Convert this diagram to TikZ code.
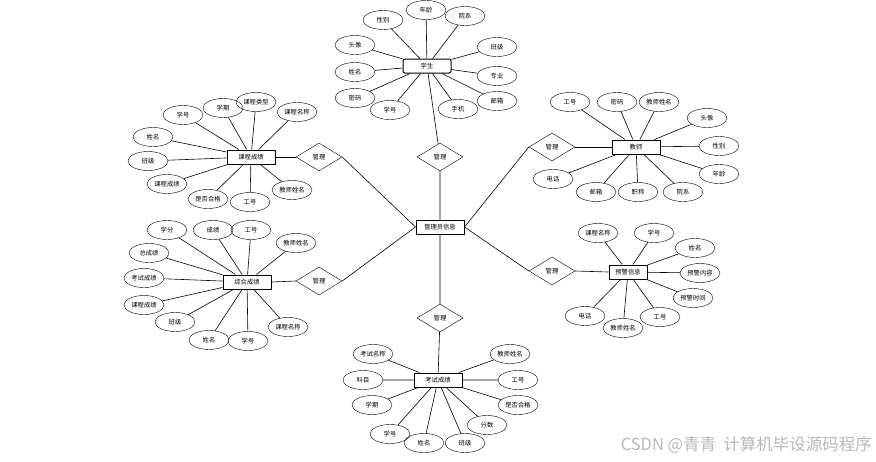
\documentclass[tikz,border=0pt]{standalone}
\usepackage{fontspec}
\setmainfont{Noto Sans CJK SC}
\usetikzlibrary{shapes.geometric}

\begin{document}
\begin{tikzpicture}[
    x=1pt, y=-1pt,
    attr/.style={draw, ellipse, minimum width=40pt, minimum height=19pt, inner sep=0pt, font=\fontsize{6.3}{7}\selectfont},
    entity/.style={draw, line width=1pt, minimum width=48pt, minimum height=14pt, inner sep=0pt, font=\fontsize{6.3}{7}\selectfont},
    rel/.style={draw, diamond, minimum width=46pt, minimum height=28pt, inner sep=0pt, font=\fontsize{6.3}{7}\selectfont},
    link/.style={line width=0.6pt}
]
\useasboundingbox (0,0) rectangle (876,461);

% centre
\node[entity] (admin) at (440,227) {管理员信息};
\node[rel] (rTop) at (440,157) {管理};
\node[rel] (rLT) at (319,157) {管理};
\node[rel] (rLB) at (319,281) {管理};
\node[rel] (rRT) at (552,147) {管理};
\node[rel] (rRB) at (552,271) {管理};
\node[rel] (rBot) at (440,318) {管理};

% student
\node[entity, rounded corners=2pt] (stu) at (427,66) {学生};
\node[attr] (stuSex) at (383,20) {性别};
\node[attr] (stuAge) at (426,10) {年龄};
\node[attr] (stuDept) at (465,16) {院系};
\node[attr] (stuPhoto) at (355,45) {头像};
\node[attr] (stuName) at (355,72) {姓名};
\node[attr] (stuPwd) at (355,98) {密码};
\node[attr] (stuNo) at (390,110) {学号};
\node[attr] (stuTel) at (458,109) {手机};
\node[attr] (stuMail) at (497,101) {邮箱};
\node[attr] (stuMajor) at (497,76) {专业};
\node[attr] (stuClass) at (497,47) {班级};

% course score
\node[entity] (cs) at (251,157) {课程成绩};
\node[attr] (csNo) at (183,115) {学号};
\node[attr] (csTerm) at (223,108) {学期};
\node[attr] (csType) at (256,102) {课程类型};
\node[attr] (csCourse) at (297,112) {课程名称};
\node[attr] (csName) at (153,137) {姓名};
\node[attr] (csClass) at (148,161) {班级};
\node[attr] (csScore) at (167,184) {课程成绩};
\node[attr] (csPass) at (208,199) {是否合格};
\node[attr] (csWork) at (250,202) {工号};
\node[attr] (csTeacher) at (292,190) {教师姓名};

% teacher
\node[entity] (tea) at (636,147) {教师};
\node[attr] (teaWork) at (570,102) {工号};
\node[attr] (teaPwd) at (617,102) {密码};
\node[attr] (teaName) at (659,102) {教师姓名};
\node[attr] (teaPhoto) at (707,118) {头像};
\node[attr] (teaSex) at (719,146) {性别};
\node[attr] (teaAge) at (719,174) {年龄};
\node[attr] (teaTel) at (553,179) {电话};
\node[attr] (teaMail) at (596,192) {邮箱};
\node[attr] (teaTitle) at (638,192) {职称};
\node[attr] (teaDept) at (683,192) {院系};

% overall score
\node[entity] (all) at (247,282) {综合成绩};
\node[attr] (allCredit) at (167,230) {学分};
\node[attr] (allGrade) at (213,230) {成绩};
\node[attr] (allWork) at (251,230) {工号};
\node[attr] (allTeacher) at (296,243) {教师姓名};
\node[attr] (allTotal) at (149,253) {总成绩};
\node[attr] (allExam) at (144,278) {考试成绩};
\node[attr] (allCourseSc) at (144,305) {课程成绩};
\node[attr] (allClass) at (175,322) {班级};
\node[attr] (allName) at (209,340) {姓名};
\node[attr] (allNo) at (248,341) {学号};
\node[attr] (allCourse) at (288,327) {课程名称};

% warning
\node[entity, minimum width=38pt] (warn) at (628,272) {预警信息};
\node[attr] (warnCourse) at (598,233) {课程名称};
\node[attr] (warnNo) at (654,233) {学号};
\node[attr] (warnName) at (695,248) {姓名};
\node[attr] (warnText) at (700,273) {预警内容};
\node[attr] (warnTime) at (693,298) {预警时间};
\node[attr] (warnTel) at (585,316) {电话};
\node[attr] (warnTeacher) at (623,328) {教师姓名};
\node[attr] (warnWork) at (660,317) {工号};

% exam score
\node[entity] (exam) at (438,380) {考试成绩};
\node[attr] (examTitle) at (373,354) {考试名称};
\node[attr] (examSubj) at (363,380) {科目};
\node[attr] (examTerm) at (372,405) {学期};
\node[attr] (examNo) at (390,434) {学号};
\node[attr] (examName) at (424,443) {姓名};
\node[attr] (examClass) at (465,443) {班级};
\node[attr] (examMark) at (487,425) {分数};
\node[attr] (examPass) at (518,405) {是否合格};
\node[attr] (examWork) at (518,380) {工号};
\node[attr] (examTeacher) at (510,354) {教师姓名};

% relations
\draw[link] (admin) -- (rTop) -- (stu);
\draw[link] (admin.west) -- (rLT.east);
\draw[link] (rLT.west) -- (cs.east);
\draw[link] (admin.west) -- (rLB.east);
\draw[link] (rLB.west) -- (all.east);
\draw[link] (admin.east) -- (rRT.west);
\draw[link] (rRT.east) -- (tea.west);
\draw[link] (admin.east) -- (rRB.west);
\draw[link] (rRB.east) -- (warn.west);
\draw[link] (admin) -- (rBot) -- (exam);

% attributes
\draw[link] (stuSex) -- (stu) (stuAge) -- (stu) (stuDept) -- (stu)
    (stuPhoto) -- (stu) (stuName) -- (stu) (stuPwd) -- (stu) (stuNo) -- (stu)
    (stuTel) -- (stu) (stuMail) -- (stu) (stuMajor) -- (stu) (stuClass) -- (stu);
\draw[link] (csNo) -- (cs) (csTerm) -- (cs) (csType) -- (cs) (csCourse) -- (cs)
    (csName) -- (cs) (csClass) -- (cs) (csScore) -- (cs) (csPass) -- (cs)
    (csWork) -- (cs) (csTeacher) -- (cs);
\draw[link] (teaWork) -- (tea) (teaPwd) -- (tea) (teaName) -- (tea) (teaPhoto) -- (tea)
    (teaSex) -- (tea) (teaAge) -- (tea) (teaTel) -- (tea) (teaMail) -- (tea)
    (teaTitle) -- (tea) (teaDept) -- (tea);
\draw[link] (allCredit) -- (all) (allGrade) -- (all) (allWork) -- (all)
    (allTeacher) -- (all) (allTotal) -- (all) (allExam) -- (all)
    (allCourseSc) -- (all) (allClass) -- (all) (allName) -- (all)
    (allNo) -- (all) (allCourse) -- (all);
\draw[link] (warnCourse) -- (warn) (warnNo) -- (warn) (warnName) -- (warn)
    (warnText) -- (warn) (warnTime) -- (warn) (warnTel) -- (warn)
    (warnTeacher) -- (warn) (warnWork) -- (warn);
\draw[link] (examTitle) -- (exam) (examSubj) -- (exam) (examTerm) -- (exam)
    (examNo) -- (exam) (examName) -- (exam) (examClass) -- (exam)
    (examMark) -- (exam) (examPass) -- (exam) (examWork) -- (exam)
    (examTeacher) -- (exam);

% watermark
\node[text=black!28, font=\fontsize{16.5}{18}\selectfont, anchor=east, inner sep=0pt] (mark) at (872,445) {CSDN @青青\hspace{7pt}计算机毕设源码程序};
\end{tikzpicture}
\end{document}
